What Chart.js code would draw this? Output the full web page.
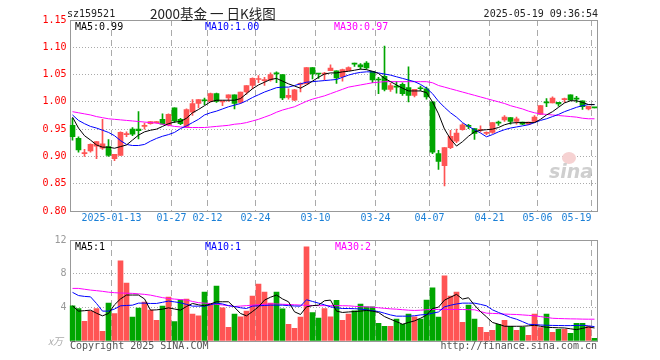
<!DOCTYPE html>
<html>
<head>
<meta charset="utf-8">
<script src="https://cdn.jsdelivr.net/npm/chart.js@4.4.1/dist/chart.umd.min.js"></script>
<style>
  body { margin: 0; background: #fff; width: 660px; height: 360px; position: relative; overflow: hidden;
         font-family: "DejaVu Sans Mono", monospace; font-size: 10px; }
  canvas { position: absolute; left: 0; }
  .t { position: absolute; white-space: pre; line-height: 12px; }
</style>
</head>
<body>
<canvas id="kline" width="660" height="230" style="top:0"></canvas>
<canvas id="vol" width="660" height="132" style="top:228px"></canvas>

<div class="t" style="left:67px;top:8px;color:#222">sz159521</div>
<div class="t" style="left:150px;top:4px;font:13.5px 'Noto Sans CJK SC';line-height:18px;color:#222">2000基金 一 日K线图</div>
<div class="t" style="right:62px;top:8px;color:#222">2025-05-19 09:36:54</div>

<div class="t" style="left:75px;top:21px;color:#000">MA5:0.99</div>
<div class="t" style="left:205px;top:21px;color:#0000ff">MA10:1.00</div>
<div class="t" style="left:334px;top:21px;color:#ff00ff">MA30:0.97</div>

<div class="t" style="left:75px;top:241px;color:#000">MA5:1</div>
<div class="t" style="left:205px;top:241px;color:#0000ff">MA10:1</div>
<div class="t" style="left:335px;top:241px;color:#ff00ff">MA30:2</div>

<div class="t" style="left:48px;top:335px;color:#aaa;font-style:italic;font-family:'Noto Sans CJK SC';font-size:10px">x万</div>
<div class="t" style="left:70px;top:340px;color:#555">Copyright 2025 SINA.COM</div>
<div class="t" style="right:63px;top:340px;color:#555">http://finance.sina.com.cn</div>

<div class="t" style="left:562px;top:152px;width:14px;height:12px;border-radius:50%;background:#f6d2d2"></div>
<div class="t" style="left:549px;top:161px;color:#cfcfcf;font:italic bold 19px 'DejaVu Sans';line-height:20px">sina</div>

<script>
// trading days, 2025
const dates = [
  '01-02','01-03','01-06','01-07','01-08','01-09','01-10','01-13','01-14','01-15','01-16','01-17','01-20','01-21','01-22','01-23','01-24','01-27',
  '02-05','02-06','02-07','02-10','02-11','02-12','02-13','02-14','02-17','02-18','02-19','02-20','02-21','02-24','02-25','02-26','02-27','02-28',
  '03-03','03-04','03-05','03-06','03-07','03-10','03-11','03-12','03-13','03-14','03-17','03-18','03-19','03-20','03-21','03-24','03-25','03-26','03-27','03-28','03-31',
  '04-01','04-02','04-03','04-07','04-08','04-09','04-10','04-11','04-14','04-15','04-16','04-17','04-18','04-21','04-22','04-23','04-24','04-25','04-28','04-29','04-30',
  '05-06','05-07','05-08','05-09','05-12','05-13','05-14','05-15','05-16','05-19'
];
const tickDates = ['01-13','01-27','02-12','02-24','03-10','03-24','04-07','04-21','05-06','05-19'];
const tickText  = ['2025-01-13','01-27','02-12','02-24','03-10','03-24','04-07','04-21','05-06','05-19     '];

const opens = [0.957,0.933,0.905,0.910,0.919,0.915,0.918,0.896,0.902,0.940,0.950,0.950,0.955,0.960,0.962,0.968,0.958,0.989,
  0.968,0.955,0.981,0.997,1.003,1.001,1.015,1.000,1.007,1.013,0.999,1.018,1.030,1.041,1.039,1.040,1.053,1.050,
  1.008,1.003,1.032,1.033,1.063,1.052,1.051,1.057,1.057,1.046,1.057,1.070,1.068,1.071,1.056,1.041,1.047,1.023,1.028,1.032,1.026,
  1.012,1.025,1.024,1.000,0.905,0.883,0.916,0.928,0.949,0.957,0.951,0.948,0.942,0.944,0.962,0.967,0.971,0.964,0.963,0.959,0.964,
  0.977,0.999,0.998,0.999,1.004,1.013,1.006,1.002,0.987,0.990];
const highs = [0.970,0.936,0.913,0.923,0.927,0.968,0.931,0.904,0.945,0.945,0.953,0.982,0.961,0.964,0.964,0.978,0.978,0.989,
  0.970,0.987,1.004,1.004,1.007,1.016,1.016,1.001,1.013,1.013,1.018,1.030,1.044,1.048,1.045,1.053,1.055,1.050,
  1.024,1.023,1.035,1.063,1.063,1.052,1.054,1.068,1.057,1.060,1.064,1.071,1.070,1.074,1.056,1.045,1.102,1.034,1.037,1.035,1.064,
  1.023,1.029,1.027,1.000,0.911,0.916,0.948,0.950,0.960,0.959,0.951,0.956,0.945,0.962,0.965,0.975,0.971,0.972,0.963,0.963,0.975,
  0.993,1.006,1.009,0.999,1.007,1.013,1.010,1.002,0.992,0.990];
const lows = [0.930,0.908,0.900,0.908,0.896,0.913,0.900,0.892,0.902,0.936,0.938,0.932,0.950,0.959,0.961,0.959,0.956,0.962,
  0.958,0.953,0.975,0.989,0.995,1.000,0.999,0.993,1.001,0.987,0.997,1.014,1.024,1.035,1.030,1.038,1.035,1.004,
  1.005,1.002,1.018,1.033,1.042,1.043,1.040,1.057,1.034,1.038,1.057,1.065,1.060,1.060,1.035,1.015,1.020,1.019,1.016,1.012,1.000,
  1.009,1.021,1.005,0.905,0.876,0.846,0.914,0.925,0.948,0.951,0.931,0.945,0.940,0.942,0.957,0.964,0.959,0.959,0.958,0.958,0.963,
  0.977,0.991,0.998,0.992,0.999,1.002,0.999,0.986,0.985,0.989];
const closes = [0.936,0.912,0.906,0.922,0.927,0.923,0.902,0.904,0.944,0.941,0.941,0.947,0.957,0.964,0.963,0.959,0.977,0.965,
  0.960,0.986,0.997,1.004,1.002,1.015,1.001,1.001,1.013,0.997,1.018,1.030,1.043,1.042,1.040,1.050,1.051,1.007,
  1.012,1.022,1.034,1.063,1.051,1.051,1.052,1.062,1.044,1.059,1.063,1.069,1.064,1.062,1.040,1.040,1.023,1.030,1.027,1.015,1.012,
  1.023,1.024,1.009,0.908,0.891,0.916,0.937,0.943,0.958,0.955,0.942,0.949,0.944,0.962,0.961,0.972,0.964,0.969,0.959,0.963,0.972,
  0.993,0.998,1.007,0.996,1.005,1.003,1.005,0.991,0.992,0.989];

const ma5 = [0.972,0.952,0.938,0.930,0.921,0.917,0.917,0.915,0.918,0.921,0.930,0.939,0.945,0.948,0.950,0.955,0.960,0.963,
  0.964,0.970,0.980,0.986,0.993,1.000,1.003,1.003,1.003,1.003,1.006,1.015,1.024,1.031,1.036,1.041,1.043,1.038,
  1.033,1.029,1.025,1.031,1.038,1.045,1.051,1.053,1.053,1.055,1.056,1.058,1.060,1.059,1.056,1.052,1.043,1.037,1.031,1.025,1.020,
  1.020,1.020,1.017,1.000,0.978,0.950,0.932,0.919,0.927,0.937,0.945,0.948,0.949,0.950,0.953,0.958,0.961,0.962,0.962,0.962,0.962,
  0.968,0.976,0.982,0.990,0.998,1.002,1.002,0.999,0.995,0.995];
const ma10 = [0.976,0.966,0.960,0.955,0.952,0.948,0.944,0.938,0.929,0.922,0.920,0.920,0.922,0.928,0.933,0.937,0.940,0.944,
  0.951,0.956,0.962,0.968,0.976,0.980,0.983,0.987,0.991,0.994,0.997,1.002,1.008,1.013,1.018,1.022,1.026,1.027,
  1.027,1.030,1.033,1.036,1.037,1.038,1.039,1.040,1.041,1.045,1.049,1.052,1.054,1.055,1.055,1.053,1.051,1.049,1.046,1.043,1.040,
  1.037,1.032,1.025,1.015,1.001,0.990,0.980,0.972,0.962,0.955,0.949,0.943,0.936,0.940,0.945,0.949,0.952,0.954,0.956,0.958,0.962,
  0.966,0.969,0.973,0.977,0.982,0.986,0.990,0.993,0.995,0.995];
const ma30 = [0.982,0.980,0.978,0.976,0.973,0.971,0.969,0.968,0.967,0.966,0.965,0.964,0.963,0.962,0.961,0.959,0.957,0.955,
  0.954,0.953,0.953,0.953,0.953,0.954,0.955,0.956,0.957,0.959,0.960,0.962,0.965,0.968,0.972,0.976,0.981,0.985,
  0.988,0.991,0.996,1.001,1.005,1.008,1.011,1.015,1.019,1.023,1.027,1.029,1.031,1.033,1.035,1.036,1.037,1.037,1.037,1.037,1.037,
  1.037,1.037,1.037,1.035,1.030,1.027,1.024,1.021,1.018,1.015,1.012,1.009,1.006,1.003,1.000,0.997,0.993,0.990,0.987,0.983,0.980,
  0.978,0.977,0.976,0.975,0.974,0.973,0.972,0.970,0.969,0.969];

// volume, 万手
const volumes = [4.18,3.86,2.35,3.55,3.86,1.16,4.50,3.27,9.52,6.89,2.83,3.90,4.62,3.67,2.47,4.14,5.22,2.31,
  4.90,4.98,3.19,2.99,5.82,4.34,6.53,3.94,1.63,3.19,2.87,3.55,5.34,6.77,5.82,4.50,5.82,3.82,
  1.99,1.51,2.83,11.2,3.39,2.71,3.86,2.87,4.82,2.47,3.19,3.59,4.38,4.06,4.06,2.11,1.75,1.75,2.59,1.99,3.19,
  2.87,2.59,4.86,6.33,2.83,7.73,5.34,5.82,2.23,4.26,2.59,1.63,1.04,1.27,1.99,2.47,1.75,1.27,1.63,0.68,3.19,
  1.59,3.19,1.04,1.39,1.39,0.92,2.11,2.11,1.75,0.32];
const volMa5 = [4.18,3.55,3.60,3.67,3.30,2.99,3.27,4.30,5.00,5.46,5.46,5.46,5.00,3.67,3.70,3.78,3.94,3.80,
  3.67,4.10,4.46,4.30,4.18,4.40,4.66,4.66,4.66,4.00,3.27,2.99,3.50,4.06,4.86,5.20,5.46,5.00,
  4.66,3.47,3.15,4.06,4.20,4.26,4.78,4.86,3.55,3.39,3.45,3.50,3.55,3.63,3.55,3.39,2.90,2.59,2.30,1.99,2.20,
  2.39,2.70,3.07,3.86,4.02,4.86,5.20,5.54,4.98,5.14,4.26,3.50,2.87,2.20,2.00,1.75,1.75,1.75,1.75,1.80,1.87,
  1.75,1.63,1.60,1.57,1.55,1.45,1.35,1.50,1.67,1.55];
const volMa10 = [5.78,5.40,5.30,5.25,4.46,3.55,3.55,3.80,4.18,4.22,4.26,4.50,4.50,4.46,4.46,4.60,4.74,4.65,
  4.54,4.35,4.14,4.14,4.14,4.30,4.50,4.40,4.20,4.10,3.95,3.86,4.14,4.18,4.22,4.26,4.26,4.26,
  4.20,4.16,4.14,4.90,4.70,4.50,4.30,4.06,3.95,3.86,3.86,3.84,3.80,3.70,3.60,3.50,3.30,3.10,2.95,2.95,2.95,
  3.00,3.10,3.15,3.30,3.45,4.06,4.25,4.40,4.50,4.50,4.50,4.35,4.18,3.70,3.39,3.10,2.80,2.59,2.30,1.99,1.95,
  1.90,1.87,1.85,1.84,1.83,1.83,1.85,1.87,1.80,1.71];
const volMa30 = [6.25,6.25,6.15,6.05,5.98,5.90,5.80,5.74,5.70,5.68,5.66,5.60,5.54,5.45,5.30,5.15,5.05,4.98,
  4.92,4.86,4.70,4.55,4.50,4.45,4.36,4.28,4.20,4.10,4.15,4.20,4.26,4.30,4.35,4.42,4.40,4.36,
  4.34,4.30,4.27,4.24,4.22,4.20,4.20,4.20,4.20,4.19,4.18,4.12,4.08,4.05,4.02,3.95,3.88,3.82,3.78,3.72,3.66,
  3.63,3.66,3.72,3.75,3.75,3.75,3.75,3.75,3.74,3.72,3.71,3.50,3.31,3.28,3.25,3.20,3.17,3.15,3.10,3.05,2.99,
  2.90,2.80,2.70,2.67,2.65,2.63,2.62,2.60,2.59,2.59];

const priceTicks = [0.80, 1.15, 0.05];   // min, max, step
const volTicks = [0, 12, 4];

const UP = '#ff5454', DOWN = '#00a600';
const candleColors = closes.map((c, i) => (c >= opens[i] ? UP : DOWN));
const tickIdx = tickDates.map(d => dates.indexOf(d));

// draws the grey frame round the plot
const frame = {
  id: 'frame',
  beforeDatasetsDraw(chart) {
    const { ctx, chartArea: a } = chart;
    const x0 = Math.round(a.left) + 0.5, x1 = Math.round(a.right) - 0.5;
    const y0 = Math.round(a.top) + 0.5, y1 = Math.round(a.bottom) + 0.5;
    ctx.save();
    ctx.strokeStyle = '#999';
    ctx.lineWidth = 1;
    ctx.strokeRect(x0, y0, x1 - x0, y1 - y0);
    ctx.restore();
  }
};

const monoFont = { family: 'DejaVu Sans Mono', size: 10 };

function xScale(showLabels) {
  return {
    type: 'category',
    offset: true,
    grid: {
      offset: true,
      drawTicks: false,
      color: (c) => (tickIdx.includes(c.index) ? '#aaa' : 'rgba(0,0,0,0)')
    },
    border: { display: false, dash: [6, 4] },
    ticks: {
      display: showLabels,
      autoSkip: false,
      maxRotation: 0,
      minRotation: 0,
      padding: 1,
      labelOffset: -3,
      color: '#1a7fd6',
      font: monoFont,
      callback: (v, i) => {
        const k = tickIdx.indexOf(i);
        return k >= 0 ? tickText[k] : '';
      }
    },
    afterFit: (s) => { s.height = 19; }
  };
}

function yScale(range, color, fmt) {
  return {
    min: range[0],
    max: range[1],
    grid: { drawTicks: false, color: '#aaa' },
    border: { display: false, dash: [1, 2] },
    ticks: { stepSize: range[2], padding: 3, color: color, font: monoFont, callback: fmt },
    afterFit: (s) => { s.width = 69.5; }
  };
}

function maLine(values, color) {
  return {
    type: 'line', data: values, borderColor: color, borderWidth: 1,
    pointRadius: 0, tension: 0, order: 0
  };
}

const common = {
  responsive: false,
  animation: false,
  devicePixelRatio: 1,
  events: [],
  plugins: { legend: { display: false }, tooltip: { enabled: false } }
};

new Chart(document.getElementById('kline'), {
  type: 'bar',
  data: {
    labels: dates,
    datasets: [
      maLine(ma5, '#000000'),
      maLine(ma10, '#0000ff'),
      maLine(ma30, '#ff00ff'),
      {
        data: opens.map((o, i) => [o, closes[i]]),
        backgroundColor: candleColors,
        barThickness: 5, grouped: false, minBarLength: 1, order: 1
      },
      {
        data: lows.map((l, i) => [l, highs[i]]),
        backgroundColor: candleColors,
        barThickness: 1, grouped: false, order: 2
      }
    ]
  },
  options: {
    ...common,
    layout: { padding: { top: 20, right: 62.5, left: 0, bottom: 0 } },
    scales: {
      x: xScale(true),
      y: yScale(priceTicks, '#ff0000', (v) => Number(v).toFixed(2))
    }
  },
  plugins: [frame]
});

new Chart(document.getElementById('vol'), {
  type: 'bar',
  data: {
    labels: dates,
    datasets: [
      maLine(volMa5, '#000000'),
      maLine(volMa10, '#0000ff'),
      maLine(volMa30, '#ff00ff'),
      {
        data: volumes,
        backgroundColor: candleColors,
        barThickness: 5, grouped: false, order: 1
      }
    ]
  },
  options: {
    ...common,
    layout: { padding: { top: 12, right: 62.5, left: 0, bottom: 0 } },
    scales: {
      x: xScale(false),
      y: yScale(volTicks, '#999', (v) => (v === 0 ? '' : v))
    }
  },
  plugins: [frame]
});
</script>
</body>
</html>
